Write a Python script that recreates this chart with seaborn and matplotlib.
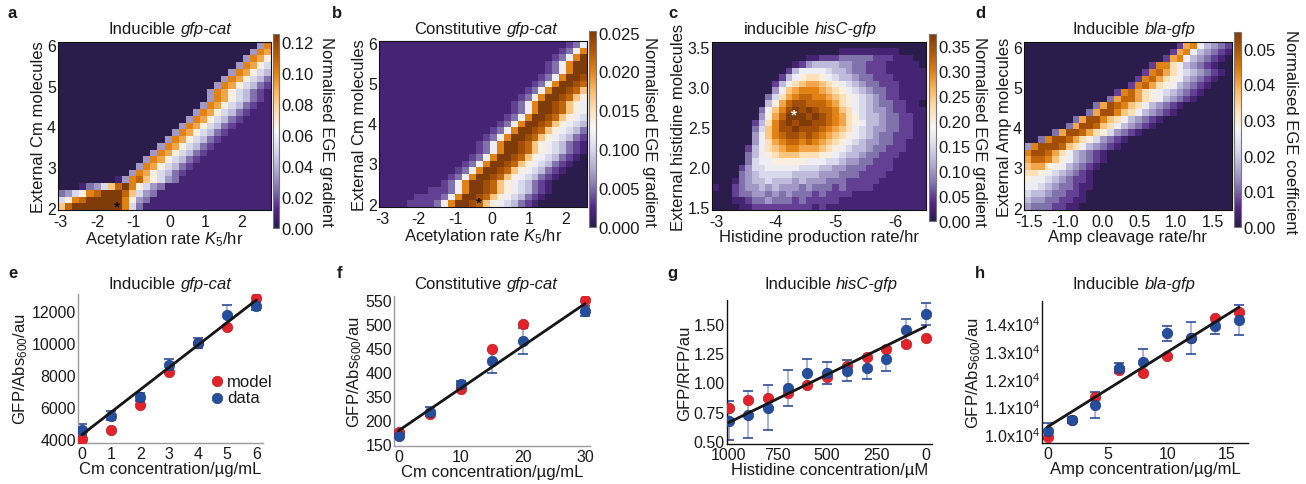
import numpy as np
import matplotlib
matplotlib.use("Agg")
import matplotlib.pyplot as plt
from matplotlib.colors import LinearSegmentedColormap
from matplotlib.offsetbox import TextArea, HPacker, AnchoredOffsetbox
import seaborn as sns

# ---------------------------------------------------------------------------
# Heat maps (a-d): one hex digit per cell, 0 = bottom of the colour bar,
# F = top of the colour bar.  Top row first, spaces are only for counting.
# Rows longer than the grid are cut at the right edge.
# ---------------------------------------------------------------------------
heat_a = [
    "00000 00000 00000 00000 00000 000 4C",
    "00000 00000 00000 00000 00000 00 4CB",
    "00000 00000 00000 00000 00000 0 4CB8",
    "00000 00000 00000 00000 00000 4CB86",
    "00000 00000 00000 00000 0000 4CB865",
    "00000 00000 00000 00000 000 4CB8653",
    "00000 00000 00000 00000 00 4CB86532",
    "00000 00000 00000 00000 0 4CB86532 1",
    "00000 00000 00000 00000 0 4CB86532 1",
    "00000 00000 00000 00000 4CB86532 11",
    "00000 00000 00000 0000 4CB86532 111",
    "00000 00000 00000 000 4CB86532 1111",
    "00000 00000 00000 00 4CB86532 11111",
    "00000 00000 00000 0 4CB86532 111111",
    "00000 00000 00000 4CB86532 1111111",
    "00000 00000 0000 4CB86532 11111111",
    "00000 00000 000 4CB86532 111111111",
    "00000 00000 00 4CB86532 1111111111",
    "00000 00000 0 4CB86532 11111111111",
    "00000 00000 4CB86532 111111111111",
    "00000 000 14CDA8643 1111111111111",
    "000 1346ADFC8643 111111111111111",
    "3468CDFFFDA643 1111111111111111",
    "68CDFFFFFC843 11111111111111111",
    "ADFFFFFFFC63 111111111111111111",
]

heat_b = [
    "11111 11111 11111 11111 11111 11 23 7CFFEDA8765321",
    "11111 11111 11111 11111 11111 1 23 7CFFEDA8765321",
    "11111 11111 11111 11111 11111 23 7CFFEDA8765321",
    "11111 11111 11111 11111 1111 23 7CFFEDA8765321",
    "11111 11111 11111 11111 1111 23 7CFFEDA8765321",
    "11111 11111 11111 11111 111 23 7CFFEDA8765321",
    "11111 11111 11111 11111 11 23 7CFFEDA8765321",
    "11111 11111 11111 11111 1 23 7CFFEDA8765321",
    "11111 11111 11111 11111 23 7CFFEDA8765321",
    "11111 11111 11111 1111 23 7CFFEDA8765321",
    "11111 11111 11111 1111 23 7CFFEDA8765321",
    "11111 11111 11111 111 23 7CFFEDA8765321",
    "11111 11111 11111 11 23 7CFFEDA8765321",
    "11111 11111 11111 1 23 7CFFEDA8765321",
    "11111 11111 11111 23 7CFFEDA8765321",
    "11111 11111 1111 23 7CFFEDA8765321",
    "11111 11111 1111 23 7CFFEDA8765321",
    "11111 11111 111 23 7CFFEDA8765321 0",
    "11111 11111 11 23 7CFFEDA8765321 00",
    "11111 11111 1 23 7CFFEDA8765321 000",
    "11111 11111 23 7CFFEDA8765321 0000",
    "11111 1111 23 7CFFEDA8765321 00000",
    "11111 1122 23 7CFFEDA8765321 00000",
    "11111 222 23 7CFFEDA8765321 000000",
    "1111 222 23 7CFFEDA8765321 0000000",
]

heat_c = [
    "0000000000000000 0000000000000000",
    "0000000000000000000 111111111 0000",
    "00000000000000 1122 2333332 2211 100",
    "000000000000 12 455 55443 32221 111 10",
    "00000000000 2 57 7776 55433 22211 1111",
    "0000000000 257 899 87 6554 3322 2111 11",
    "000000000 2579A BBA 987 65 43 322 211 11",
    "000000000 47AB CCCB A987 6543 322 1111",
    "00000000 369BC DDCC BA98 7654 3 221 111",
    "00000000 58BDE EDDD CB98 7654 3 322 110",
    "0000000 37ACEF EFED DCA9 7654 43 22 111",
    "0000000 48BDFF FEFE DCB9 8655 43 32 211",
    "000000 259CEFE FFEE DCB9 8755 433 2 211",
    "000000 36ACEEF EEED CBA9 7654 433 2 211",
    "000000 47ACDEE DEDC BA98 7654 332 2 211",
    "000000 479BCDD CDCB A987 6544 332 2 111",
    "00000 2579ABCC BBBA 9876 5543 3 22 2111",
    "00000 35789AAA 9998 8765 5433 2 221 111",
    "00000 36778888 8777 6654 4332 2 211111",
    "0000 246677777 6665 5443 332 2 2211111",
    "0000 345666665 5554 4433 32 222111111",
    "000 1345565554 5444 3332 2222 1111111",
    "100 2344545444 3433 3232 2221 1111111",
    "000 2334434343 3323 22 221111 1111111",
    "00011 23343332 3222 2 211111 11111111",
    "00001 12222222 2212 111111111111111",
]

heat_d = [
    "00000 00000 00000 00000 00 2BC75432",
    "00000 00000 00000 00000 0 2BC754321",
    "00000 00000 00000 00000 2BC754321 0",
    "00000 00000 00000 000 2CC9754321 00",
    "00000 00000 00000 00 2CDB9765432 10",
    "00000 00000 00000 0 2CDB98754321 0",
    "00000 00000 00000 2CDB98754321 0",
    "00000 00000 000 2CDB987654321 0",
    "00000 00000 00 3BDDB98754321 0",
    "00000 00000 3BEDCA9754321 0",
    "00000 0000 3BEECA9754321 0",
    "00000 00 3BEECA9754321 0",
    "00000 0 3BEEDA9754321 0",
    "0000 3BEEDB9864321 0",
    "00 3CEEDB9864321 0",
    "4CEEEDA975432 1 0",
    "CEEDB9754321 0",
    "BDDCA8754321 0",
    "ABB98754321 0",
    "9987654321 0",
    "8776543221 0",
    "7765433211 0",
    "655433221 0",
    "544332211 0",
    "43332211 0",
]

# grid extents: left, right, bottom, top (data units of the axes)
ext_a = (-3.07, 2.80, 1.94, 6.08)
ext_b = (-3.08, 2.58, 1.92, 6.04)
ext_c = (-2.93, -6.52, 1.46, 3.56)
ext_d = (-1.564, 1.264, 1.94, 6.125)
ncols = {"a": 30, "b": 30, "c": 32, "d": 30}

cmax_a, cmax_b, cmax_c, cmax_d = 0.125, 0.0252, 0.374, 0.0547

star_a = (-1.45, 2.02)
star_b = (-0.35, 2.03)
star_c = (-4.30, 2.65)
star_d = (-1.21, 3.00)

xt_ab = [-3, -2, -1, 0, 1, 2]
xt_c = [-3, -4, -5, -6]
xt_d = [-1.5, -1.0, -0.5, 0.0, 0.5, 1.0]
xt_d_labels = ["-1.5", "-1.0", "0.0", "0.5", "1.0", "1.5"]
yt_abd = [2, 3, 4, 5, 6]
yt_c = [1.5, 2.0, 2.5, 3.0, 3.5]

ct_a = [0, 0.02, 0.04, 0.06, 0.08, 0.10, 0.12]
ct_b = [0, 0.005, 0.010, 0.015, 0.020, 0.025]
ct_b_labels = ["0.000", "0.005", "0.100", "0.015", "0.020", "0.025"]
ct_c = [0, 0.05, 0.10, 0.15, 0.20, 0.25, 0.30, 0.35]
ct_d = [0, 0.01, 0.02, 0.03, 0.04, 0.05]

# ---------------------------------------------------------------------------
# Model vs data (e-h)
# ---------------------------------------------------------------------------
e_conc = [0, 1, 2, 3, 4, 5, 6]
e_model = [4000, 4580, 6140, 8200, 9970, 10960, 12790]
e_data = [4580, 5450, 6600, 8620, 9990, 11730, 12320]
e_err = [330, 290, 260, 370, 290, 650, 250]

f_conc = [0, 5, 10, 15, 20, 30]
f_model = [274, 311, 365, 448, 501, 550]
f_data = [266, 317, 374, 422, 465, 528]
f_err = [6, 10, 7, 25, 28, 10]
f_yticks = [250, 300, 350, 400, 450, 500, 550]
f_ylabels = ["150", "200", "350", "400", "450", "500", "550"]

g_conc = [1000, 900, 800, 700, 600, 500, 400, 300, 200, 100, 0]
g_model = [0.784, 0.847, 0.867, 0.912, 0.98, 1.045, 1.136, 1.213, 1.287, 1.324, 1.378]
g_data = [0.676, 0.727, 0.784, 0.952, 1.077, 1.08, 1.10, 1.12, 1.196, 1.443, 1.58]
g_err = [0.168, 0.196, 0.19, 0.156, 0.12, 0.095, 0.09, 0.088, 0.10, 0.097, 0.095]

h_conc = [0, 2, 4, 6, 8, 10, 12, 14, 16]
h_model = [9904, 10506, 11349, 12337, 12229, 12831, 13470, 14205, 14434]
h_data = [10096, 10506, 11060, 12386, 12627, 13650, 13470, 13916, 14145]
h_err = [290, 100, 480, 170, 470, 280, 580, 300, 540]
h_yticks = [10000, 11000, 12000, 13000, 14000]
h_ylabels = [r"1.0x10$^4$", r"1.1x10$^4$", r"1.2x10$^4$", r"1.3x10$^4$", r"1.4x10$^4$"]

# ---------------------------------------------------------------------------
FS = 12      # titles, axis labels, colour-bar text
FT = 11.5    # axis tick labels
sns.set_theme(style="white")
plt.rcParams["font.family"] = ["Liberation Sans", "DejaVu Sans"]
plt.rcParams.update({
    "mathtext.fontset": "custom",
    "mathtext.rm": "Liberation Sans",
    "mathtext.it": "Liberation Sans:italic",
    "mathtext.bf": "Liberation Sans:bold",
    "text.color": "#1a1a1a", "axes.labelcolor": "#1a1a1a",
    "xtick.color": "#1a1a1a", "ytick.color": "#1a1a1a",
    "font.size": FS, "axes.labelsize": FS,
    "xtick.labelsize": FT, "ytick.labelsize": FT,
})

cmap = LinearSegmentedColormap.from_list(
    "ege", ["#2b1d4b", "#542788", "#8073ac", "#b2abd2", "#d8daeb", "#f7f7f7",
            "#fee0b6", "#fdb863", "#e08214", "#b35806", "#7f3b08"])

W, H = 1306, 485
fig = plt.figure(figsize=(W / 100, H / 100), dpi=100)


def box(x0, y0, x1, y1):
    return [x0 / W, 1 - y1 / H, (x1 - x0) / W, (y1 - y0) / H]


def to_grid(rows, ncol, vmax):
    out = []
    for r in rows:
        s = r.replace(" ", "")
        s = s.ljust(ncol, s[-1])[:ncol]
        out.append([int(ch, 16) / 15 * vmax for ch in s])
    return np.array(out)


def panel_title(plain, italic, cx, by):
    packed = HPacker(children=[TextArea(plain, textprops=dict(fontsize=FS)),
                               TextArea(italic, textprops=dict(fontsize=FS, style="italic"))],
                     align="baseline", pad=0, sep=3.5)
    anch = AnchoredOffsetbox(loc="lower center", child=packed, pad=0, borderpad=0,
                             frameon=False, bbox_to_anchor=(cx / W, 1 - by / H),
                             bbox_transform=fig.transFigure)
    fig.add_artist(anch)


def heat_panel(rows, ncol, ext, vmax, ax_px, cax_px, xticks, xlabels, yticks, ylabels,
               cticks, clabels, xlabel, ylabel, clabel, clabel_x, star, star_color):
    ax = fig.add_axes(box(*ax_px))
    cax = fig.add_axes(box(*cax_px))
    grid = to_grid(rows, ncol, vmax)
    nrow = grid.shape[0]
    sns.heatmap(grid, ax=ax, cbar_ax=cax, cmap=cmap, vmin=0, vmax=vmax,
                xticklabels=False, yticklabels=False)
    x0, x1, y0, y1 = ext
    fx = lambda v: (v - x0) / (x1 - x0) * ncol
    fy = lambda v: (y1 - v) / (y1 - y0) * nrow
    ax.set_xticks([fx(v) for v in xticks])
    ax.set_xticklabels(xlabels, rotation=0)
    ax.set_yticks([fy(v) for v in yticks])
    ax.set_yticklabels(ylabels, rotation=0)
    ax.tick_params(axis="x", length=0, pad=3)
    ax.tick_params(axis="y", length=0, pad=1.5)
    for sp in ax.spines.values():
        sp.set_visible(True)
        sp.set_color("#111111")
        sp.set_linewidth(0.8)
    ax.set_xlabel(xlabel, labelpad=0)
    ax.set_ylabel(ylabel, labelpad=1)
    ax.text(fx(star[0]), fy(star[1]), "*", ha="center", va="center",
            color=star_color, fontsize=11, fontweight="bold")
    cbar = ax.collections[0].colorbar
    cbar.set_ticks(cticks, labels=clabels)
    cax.tick_params(length=0, pad=2, labelsize=FS)
    cbar.outline.set_edgecolor("#777777")
    cbar.outline.set_linewidth(0.8)
    fig.text(clabel_x / W, 1 - 132 / H, clabel, rotation=270, ha="center", va="center")
    return ax


def fit_panel(x, model, data, err, ax_px, xlim, ylim, xticks, xlabels, yticks, ylabels,
              xlabel, ylabel, spine_color, legend=False):
    ax = fig.add_axes(box(*ax_px))
    eb = ax.errorbar(x, data, yerr=err, fmt="none", ecolor="#a9b6da", elinewidth=1.5,
                     capsize=3.5, capthick=1.2, zorder=2)
    for cap in eb[1]:
        cap.set_color("#2c4b9b")
        cap.set_markeredgecolor("#2c4b9b")
    sns.scatterplot(x=x, y=model, ax=ax, color="#e4222a", s=58, edgecolor="#a01c20",
                    linewidth=0.4, zorder=3, label="model")
    sns.scatterplot(x=x, y=data, ax=ax, color="#244f9e", s=58, edgecolor="#1b3570",
                    linewidth=0.4, zorder=4, label="data")
    sns.regplot(x=np.asarray(x, float), y=np.asarray(data, float), ax=ax, scatter=False,
                ci=None, color="#161616", line_kws=dict(lw=2.0, zorder=5))
    ax.set_xlim(*xlim)
    ax.set_ylim(*ylim)
    ax.set_xticks(xticks)
    ax.set_xticklabels(xlabels)
    ax.set_yticks(yticks)
    ax.set_yticklabels(ylabels)
    ax.tick_params(axis="x", length=0, pad=2.5)
    ax.tick_params(axis="y", length=0, pad=1.5)
    ax.set_xlabel(xlabel, labelpad=0)
    ax.set_ylabel(ylabel, labelpad=1)
    for side in ("top", "right"):
        ax.spines[side].set_visible(False)
    for side in ("left", "bottom"):
        ax.spines[side].set_color(spine_color)
        ax.spines[side].set_linewidth(1.0)
    if legend:
        ax.legend(loc="center left", bbox_to_anchor=(0.66, 0.36), frameon=False,
                  handletextpad=0.0, borderaxespad=0, labelspacing=0.1,
                  handlelength=1.2, fontsize=FS)
    elif ax.get_legend() is not None:
        ax.get_legend().remove()
    return ax


# ---- top row ----
heat_panel(heat_a, ncols["a"], ext_a, cmax_a, (58, 43, 271, 211), (273, 35, 279, 229),
           xt_ab, [str(v) for v in xt_ab], yt_abd, [str(v) for v in yt_abd],
           ct_a, [f"{v:.2f}" for v in ct_a],
           r"Acetylation rate $K_{\mathit{5}}$/hr", "External Cm molecules",
           "Normalised EGE gradient", 327, star_a, "#111111")
heat_panel(heat_b, ncols["b"], ext_b, cmax_b, (379, 42, 587, 208), (589, 32, 596, 228),
           xt_ab, [str(v) for v in xt_ab], yt_abd, [str(v) for v in yt_abd],
           ct_b, ct_b_labels,
           r"Acetylation rate $K_{\mathit{5}}$/hr", "External Cm molecules",
           "Normalised EGE gradient", 650, star_b, "#111111")
heat_panel(heat_c, ncols["c"], ext_c, cmax_c, (712, 43, 926, 211), (929, 35, 936, 222),
           xt_c, [str(v) for v in xt_c], yt_c, [f"{v:.1f}" for v in yt_c],
           ct_c, [f"{v:.2f}" for v in ct_c],
           "Histidine production rate/hr", "External histidine molecules",
           "Normalised EGE gradient", 980, star_c, "white")
heat_panel(heat_d, ncols["d"], ext_d, cmax_d, (1024, 43, 1232, 211), (1234, 33, 1241, 228),
           xt_d, xt_d_labels, yt_abd, [str(v) for v in yt_abd],
           ct_d, [f"{v:.2f}" for v in ct_d],
           "Amp cleavage rate/hr", "External Amp molecules",
           "Normalised EGE coefficient", 1290, star_d, "white")

# ---- bottom row ----
fit_panel(e_conc, e_model, e_data, e_err, (78, 295, 263, 444), (-0.14, 6.23), (3750, 13040),
          e_conc, [str(v) for v in e_conc], [4000, 6000, 8000, 10000, 12000],
          ["4000", "6000", "8000", "10000", "12000"],
          "Cm concentration/µg/mL", r"GFP/Abs$_{600}$/au", "#9a9a9a", legend=True)
fit_panel(f_conc, f_model, f_data, f_err, (394, 297, 590, 447), (-0.75, 30.8), (245, 559),
          [0, 10, 20, 30], ["0", "10", "20", "30"], f_yticks, f_ylabels,
          "Cm concentration/µg/mL", r"GFP/Abs$_{600}$/au", "#9a9a9a")
fit_panel(g_conc, g_model, g_data, g_err, (727, 301, 932, 445), (1008, -32), (0.477, 1.70),
          [1000, 750, 500, 250, 0], ["1000", "750", "500", "250", "0"],
          [0.50, 0.75, 1.00, 1.25, 1.50], ["0.50", "0.75", "1.00", "1.25", "1.50"],
          "Histidine concentration/µM", "GFP/RFP/au", "#111111")
fit_panel(h_conc, h_model, h_data, h_err, (1042, 302, 1248, 444), (-0.47, 16.75), (9675, 14820),
          [0, 5, 10, 15], ["0", "5", "10", "15"], h_yticks, h_ylabels,
          "Amp concentration/µg/mL", r"GFP/Abs$_{600}$/au", "#111111")

# ---- titles and panel letters ----
panel_title("Inducible", "gfp-cat", 170, 37)
panel_title("Constitutive", "gfp-cat", 486, 37)
panel_title("inducible", "hisC-gfp", 810, 37)
panel_title("Inducible", "bla-gfp", 1134, 37)
panel_title("Inducible", "gfp-cat", 170, 292)
panel_title("Constitutive", "gfp-cat", 486, 292)
panel_title("Inducible", "hisC-gfp", 831, 292)
panel_title("Inducible", "bla-gfp", 1134, 292)

for letter, lx, ly in [("a", 8, 18), ("b", 332, 18), ("c", 668, 18), ("d", 975, 18),
                       ("e", 8, 278), ("f", 337, 278), ("g", 667, 278), ("h", 975, 278)]:
    fig.text(lx / W, 1 - ly / H, letter, fontweight="bold", fontsize=12, va="baseline")

fig.savefig("out.png", dpi=100)
